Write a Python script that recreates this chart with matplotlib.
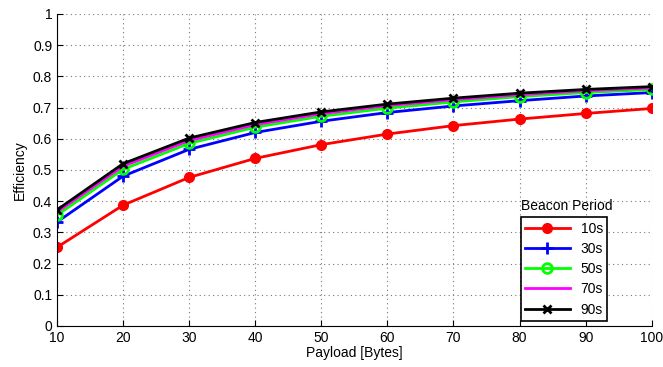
import matplotlib
matplotlib.use("Agg")
import matplotlib.pyplot as plt

plt.rcParams['font.family'] = ['Liberation Sans', 'DejaVu Sans']

payload = [10, 20, 30, 40, 50, 60, 70, 80, 90, 100]
eff_10s = [0.252, 0.387, 0.476, 0.537, 0.581, 0.615, 0.642, 0.663, 0.681, 0.697]
eff_30s = [0.333, 0.480, 0.566, 0.620, 0.656, 0.684, 0.705, 0.722, 0.737, 0.748]
eff_50s = [0.355, 0.502, 0.585, 0.637, 0.672, 0.698, 0.718, 0.735, 0.748, 0.758]
eff_70s = [0.365, 0.512, 0.594, 0.645, 0.680, 0.706, 0.725, 0.741, 0.754, 0.763]
eff_90s = [0.372, 0.520, 0.602, 0.652, 0.686, 0.711, 0.730, 0.746, 0.758, 0.767]

fig = plt.figure(figsize=(6.63, 3.67), dpi=100)
ax = fig.add_axes([0.086, 0.112, 0.897, 0.850])

ax.plot(payload, eff_10s, color="#ff0000", lw=2, marker="o", ms=7, label="10s")
ax.plot(payload, eff_30s, color="#0000ff", lw=2, marker="+", ms=8, mew=2, label="30s")
ax.plot(payload, eff_50s, color="#00ff00", lw=2, marker="o", ms=7, mfc="none", mew=2, label="50s")
ax.plot(payload, eff_70s, color="#ff00ff", lw=2, label="70s")
ax.plot(payload, eff_90s, color="#000000", lw=2, marker="x", ms=6, mew=2, label="90s")

ax.set_xlim(10, 100)
ax.set_ylim(0, 1)
ax.set_xticks(payload)
ax.set_yticks([i / 10 for i in range(11)])
ax.set_yticklabels(["0", "0.1", "0.2", "0.3", "0.4", "0.5", "0.6", "0.7", "0.8", "0.9", "1"])
ax.tick_params(direction="in", labelsize=10, length=4)
ax.spines["top"].set_visible(False)
ax.spines["right"].set_visible(False)
ax.grid(True, linestyle=(0, (1, 3)), color="#777777", lw=0.8)
ax.set_xlabel("Payload [Bytes]", fontsize=10, labelpad=1)
ax.set_ylabel("Efficiency", fontsize=10)

leg = ax.legend(loc="upper left", bbox_to_anchor=(0.78, 0.348), fontsize=10,
                handlelength=3.2, fancybox=False, framealpha=1, edgecolor="black",
                borderpad=0.3, labelspacing=0.45, borderaxespad=0)
leg.get_frame().set_linewidth(1.2)
ax.text(0.78, 0.385, "Beacon Period", transform=ax.transAxes, fontsize=10,
        ha="left", va="center")

fig.savefig("out.png", dpi=100)
